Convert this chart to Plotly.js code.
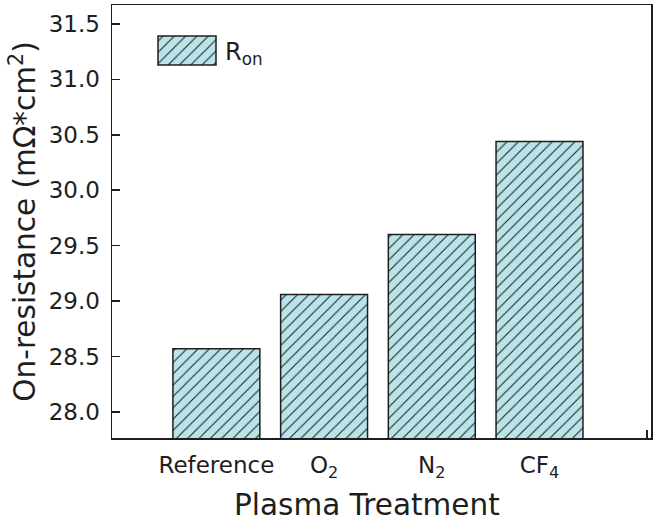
<!DOCTYPE html>
<html>
<head>
<meta charset="utf-8">
<script src="https://cdn.plot.ly/plotly-3.0.1.min.js"></script>
<style>
  html, body { margin: 0; padding: 0; background: #fff; }
  #chart { width: 663px; height: 523px; }
</style>
</head>
<body>
<div id="chart"></div>
<script>
// ---- data ----
const categories = ['Reference', 'O<sub>2</sub>', 'N<sub>2</sub>', 'CF<sub>4</sub>'];
const ronValues = [28.57, 29.06, 29.60, 30.44];
const seriesName = 'R<sub>on</sub>';
const xTitle = 'Plasma Treatment';
const yTitle = 'On-resistance (mΩ*cm<sup>2</sup>)';

// ---- style ----
const FONT = 'DejaVu Sans';
const INK = '#1e1e1e';
const FILL = '#b9e5ea';

const xIdx = categories.map((c, i) => i);
const tickVals = xIdx.concat([categories.length]);
const tickText = categories.concat(['']);

const trace = {
  type: 'bar',
  x: xIdx,
  y: ronValues,
  name: seriesName,
  width: 0.807,
  showlegend: true,
  marker: {
    color: FILL,
    line: { color: INK, width: 1.5 },
    pattern: { shape: '/', size: 8, solidity: 0.13, fillmode: 'replace', bgcolor: FILL, fgcolor: INK }
  }
};

const layout = {
  width: 663, height: 523,
  margin: { l: 112, r: 11.5, t: 5, b: 85 },
  paper_bgcolor: '#fff', plot_bgcolor: '#fff',
  font: { family: FONT, color: INK, size: 23 },
  showlegend: true,
  legend: {
    x: 0.06, y: 0.93, xanchor: 'left', yanchor: 'top',
    bgcolor: 'rgba(0,0,0,0)', borderwidth: 0,
    font: { family: FONT, size: 24, color: INK }
  },
  annotations: [{
    text: xTitle, xref: 'paper', yref: 'paper',
    x: 0.4736, y: -0.1547, xanchor: 'center', yanchor: 'middle',
    showarrow: false, font: { family: FONT, size: 29.5, color: INK }
  }],
  xaxis: {
    range: [-0.969, 4.035],
    tickmode: 'array', tickvals: tickVals, ticktext: tickText,
    ticks: 'inside', ticklen: 8, tickwidth: 1.5, tickcolor: INK,
    showline: true, linecolor: INK, linewidth: 1.5, mirror: true,
    showgrid: false, zeroline: false, layer: 'below traces',
    tickfont: { family: FONT, size: 23, color: INK },
    ticklabelstandoff: 6
  },
  yaxis: {
    range: [27.765, 31.671],
    tick0: 28, dtick: 0.5, tickformat: '.1f',
    ticks: 'inside', ticklen: 8, tickwidth: 1.5, tickcolor: INK,
    showline: true, linecolor: INK, linewidth: 1.5, mirror: true,
    showgrid: false, zeroline: false,
    tickfont: { family: FONT, size: 23, color: INK },
    ticklabelstandoff: 6,
    title: { text: yTitle, font: { family: FONT, size: 29.5, color: INK }, standoff: 4 }
  }
};

// legend swatch geometry (page px)
const SW = { left: 158, right: 216, top: 36, bottom: 65, textLeft: 225 };

function fixLegend(gd) {
  const legend = gd.querySelector('.legend');
  if (!legend) return;
  legend.querySelectorAll('[clip-path]').forEach(el => el.removeAttribute('clip-path'));
  const pt = legend.querySelector('.legendpoints path');
  const txt = legend.querySelector('.legendtext');
  if (!pt || !txt) return;
  const base = gd.getBoundingClientRect();
  const r = pt.getBoundingClientRect();
  const ox = r.left - base.left + r.width / 2;
  const oy = r.top - base.top + r.height / 2;
  const cy = (SW.top + SW.bottom) / 2;
  pt.setAttribute('d',
    'M' + (SW.left - ox) + ',' + (SW.top - oy) +
    'H' + (SW.right - ox) + 'V' + (SW.bottom - oy) +
    'H' + (SW.left - ox) + 'Z');
  const barPath = gd.querySelector('.barlayer .point path');
  if (barPath) {
    pt.style.fill = barPath.style.fill;
    pt.style.fillOpacity = 1;
    pt.style.stroke = INK;
    pt.style.strokeWidth = '1.5px';
  }
  const tr = txt.getBoundingClientRect();
  const dx = SW.textLeft - (tr.left - base.left);
  const dy = cy - oy;
  txt.setAttribute('x', (+txt.getAttribute('x') || 0) + dx);
  txt.setAttribute('y', (+txt.getAttribute('y') || 0) + dy);
  txt.querySelectorAll('tspan[x]').forEach(t => t.setAttribute('x', (+t.getAttribute('x')) + dx));
}

const gd = document.getElementById('chart');
Plotly.newPlot(gd, [trace], layout, { staticPlot: true, displayModeBar: false }).then(() => fixLegend(gd));
</script>
</body>
</html>
